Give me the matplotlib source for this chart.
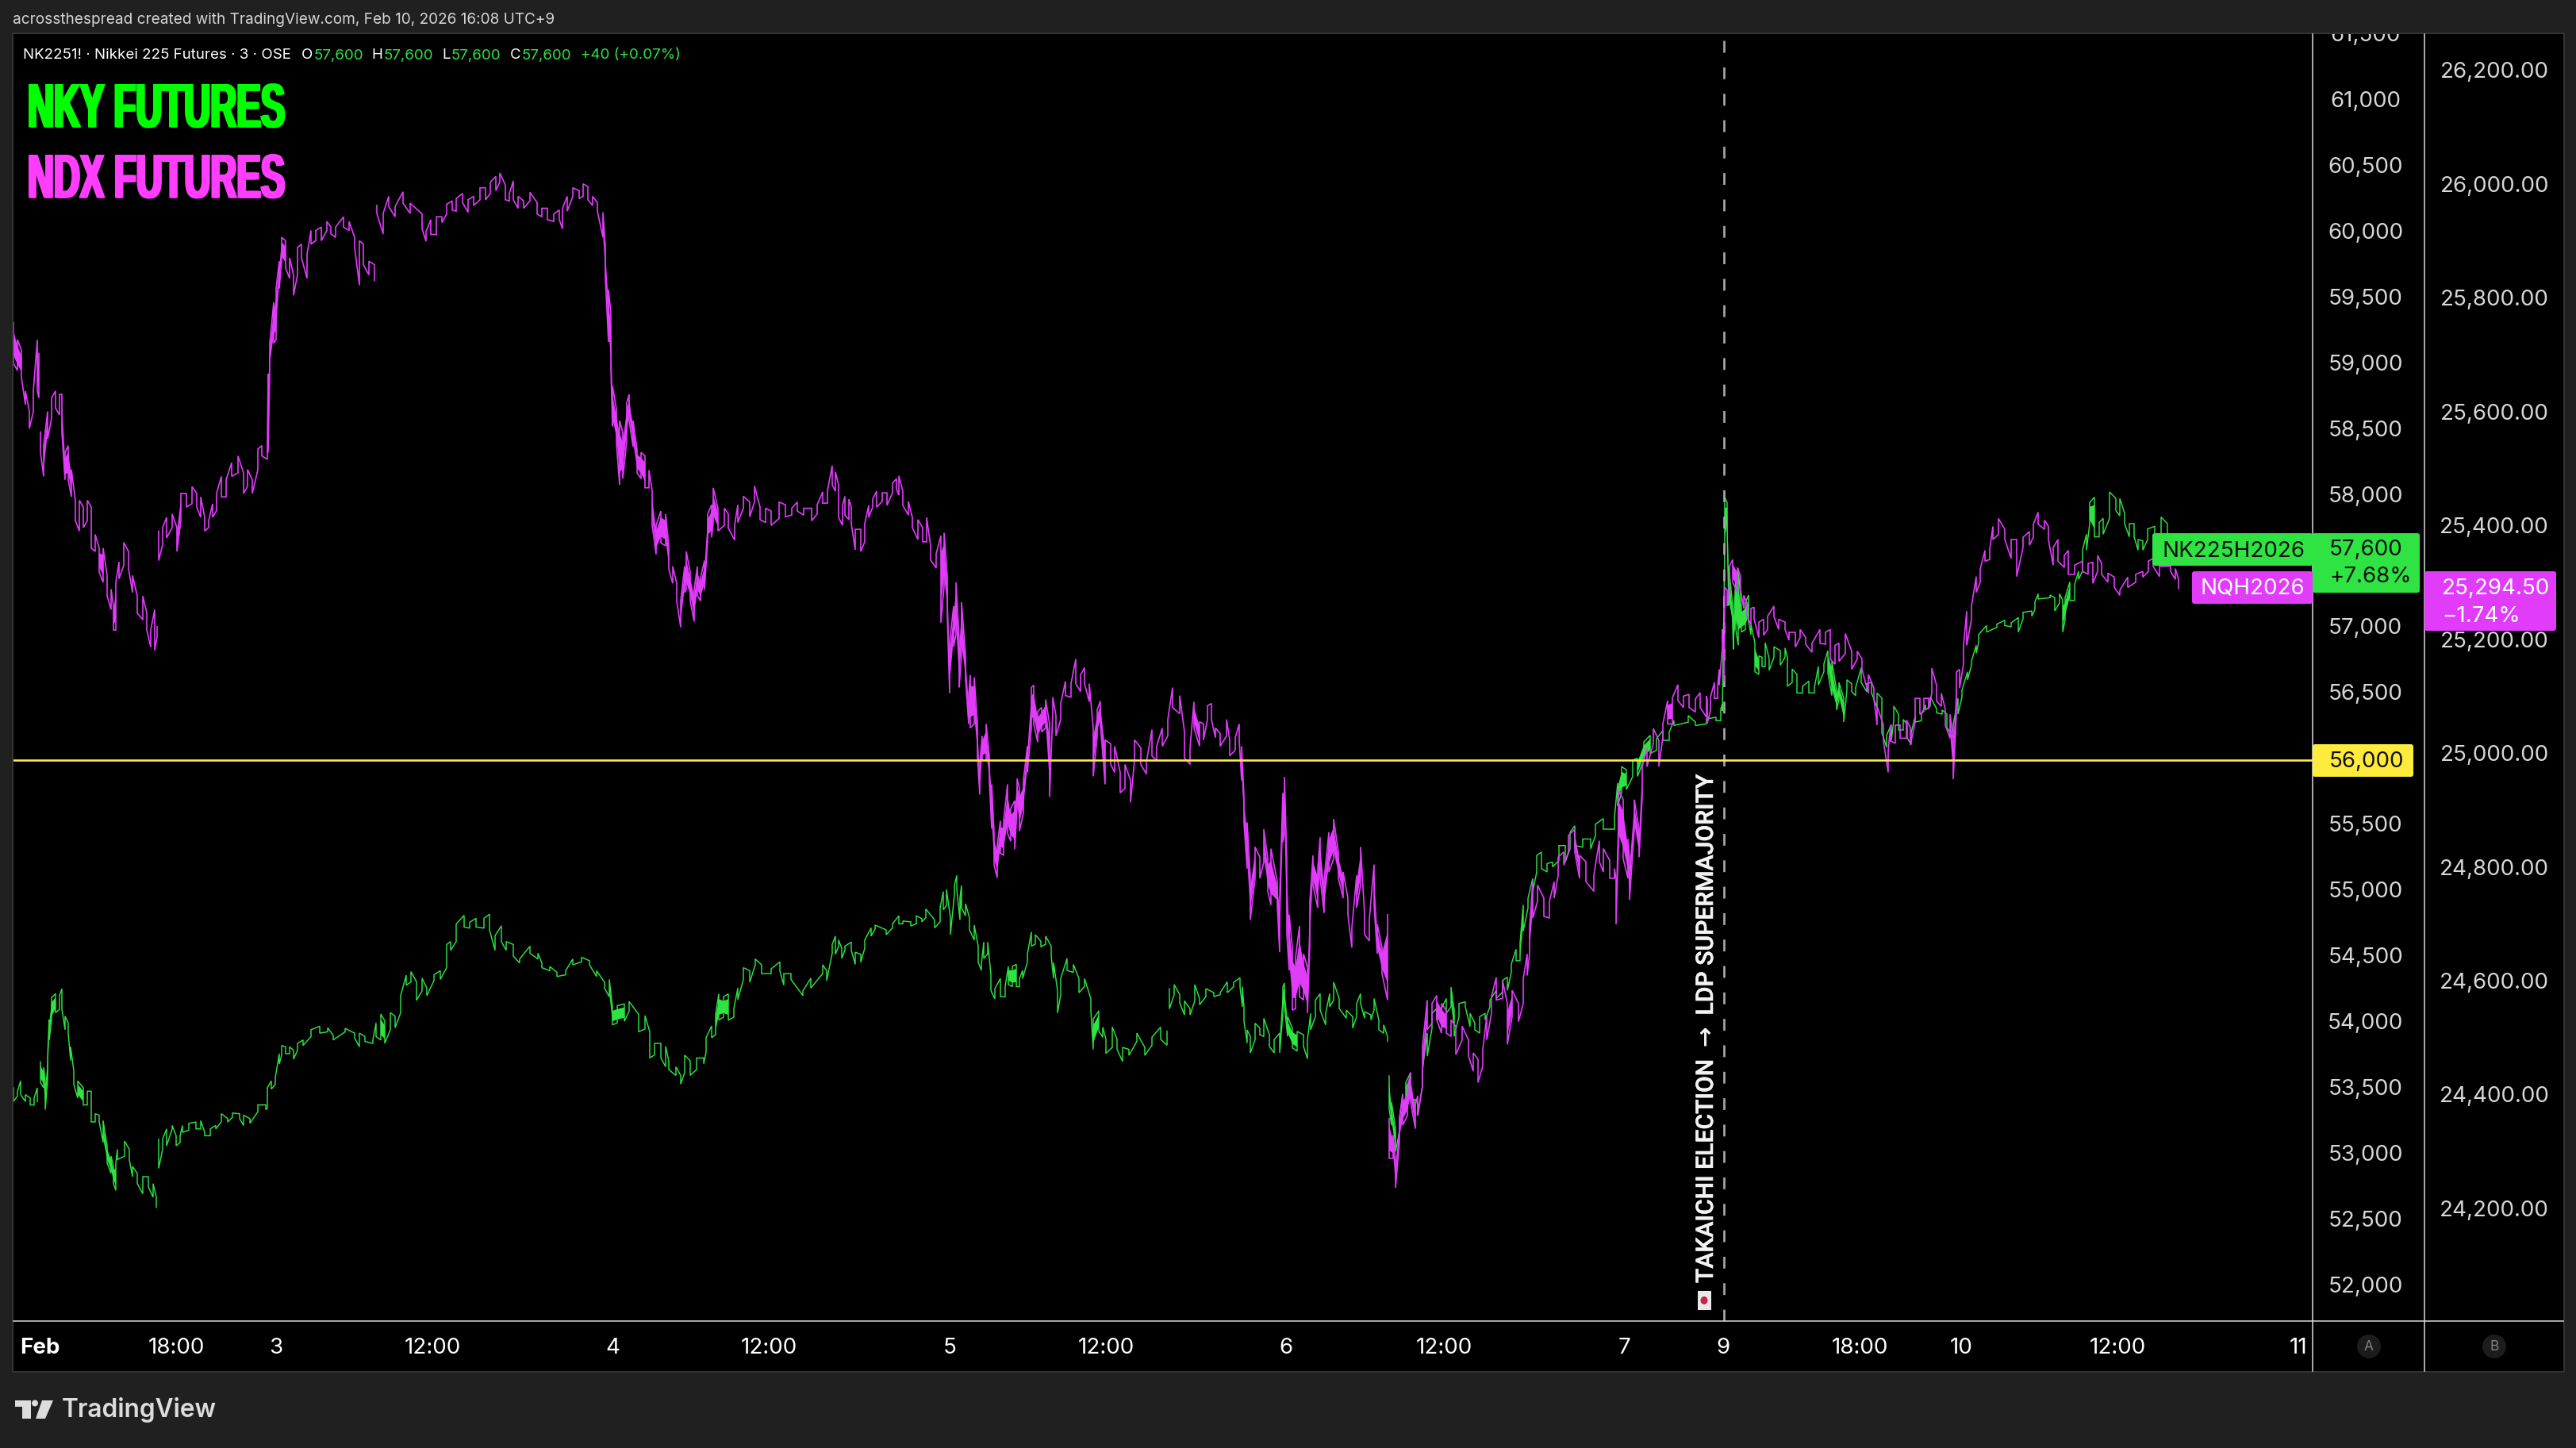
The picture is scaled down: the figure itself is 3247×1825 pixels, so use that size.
import matplotlib
matplotlib.use('Agg')
import matplotlib.pyplot as plt
import matplotlib.patheffects as pe
import numpy as np
from matplotlib.lines import Line2D
from matplotlib.patches import Circle, Ellipse, FancyBboxPatch, Polygon, Rectangle
from matplotlib.transforms import Affine2D

W, H = 3247, 1825

# price scale ticks
nky_ticks = list(range(52000, 62000, 500))
ndx_ticks = list(range(24200, 26400, 200))
# these two sit behind the last price tags
nky_hidden = [56000, 57500]
# time scale: position on the bar axis and its label
time_pos = [50, 222, 348, 545, 772, 969, 1197, 1394, 1621, 1820, 2048, 2172, 2344, 2472, 2669, 2897]
time_lab = ['Feb', '18:00', '3', '12:00', '4', '12:00', '5', '12:00', '6', '12:00', '7', '9', '18:00', '10', '12:00', '11']
level = 56000
election_pos = 2173

# NDX futures as (bar position, high, low)
ndx_1 = [(17,25756,25684),(22,25726,25672),(27,25708,25660),(32,25636,25612),(37,25600,25570),(42,25636,25600),(47,25726,25636),(49,25702,25624)]
ndx_2 = [(51,25564,25528),(55,25540,25486),(60,25600,25552),(65,25624,25588),(70,25636,25606),(75,25630,25594),(78,25630,25564),(82,25528,25480),
         (86,25540,25480),(90,25498,25450),(95,25444,25408),(100,25444,25390),(105,25432,25396),(110,25444,25408),(115,25432,25360),(120,25384,25354),
         (125,25360,25318),(130,25360,25300),(135,25312,25276),(140,25288,25252),(143,25258,25216),(146,25300,25216),(150,25336,25306),(156,25370,25330),
         (162,25354,25324),(167,25312,25282),(173,25276,25246),(180,25276,25234),(185,25246,25216),(190,25216,25186),(195,25252,25180),(198,25222,25204)]
ndx_3 = [(200,25390,25338),(205,25396,25366),(210,25414,25378),(217,25420,25396),(223,25396,25354),(228,25456,25408),(235,25456,25432),(242,25468,25438),
         (248,25456,25432),(253,25450,25414),(258,25414,25390),(263,25408,25396),(268,25438,25414),(273,25456,25426),(279,25486,25450),(285,25480,25450),
         (292,25510,25486),(300,25522,25492),(307,25492,25456),(312,25498,25468),(318,25480,25456),(325,25534,25498),(330,25540,25522),(337,25540,25516),
         (338,25666,25528),(340,25720,25672),(345,25792,25720),(348,25816,25726),(352,25864,25816),(355,25906,25864),(360,25900,25852),(365,25870,25834),
         (370,25840,25804),(375,25888,25840),(380,25894,25870),(387,25876,25834),(392,25918,25894),(398,25918,25900),(405,25924,25900),(412,25934,25918),
         (417,25924,25912),(423,25924,25906),(433,25942,25924),(440,25934,25918),(447,25906,25888),(453,25900,25822),(458,25894,25858),(465,25864,25840),(472,25858,25830)]
ndx_4 = [(475,25962,25948),(483,25948,25912),(490,25978,25960),(498,25960,25942),(508,25986,25966),(517,25966,25948),(532,25947,25921),(537,25916,25899),
         (543,25937,25911),(550,25942,25911),(557,25942,25932),(563,25964,25947),(570,25970,25954),(575,25974,25952),(583,25983,25967),(590,25972,25950),
         (597,25978,25962),(605,25993,25972),(612,25993,25972),(618,26003,25983),(625,26013,25988),(630,26019,26003),(637,25998,25972),(642,25983,25970),
         (647,26005,25972),(653,25978,25957),(660,25970,25957),(668,25985,25970),(677,25967,25947),(683,25957,25942),(690,25957,25937),(698,25947,25934),
         (705,25954,25937),(709,25957,25921),(715,25978,25952),(722,25993,25978),(730,25988,25974),(735,26000,25978),(741,25995,25972),(747,25978,25962),
         (753,25967,25952),(760,25950,25906),(763,25890,25834),(767,25814,25722),(770,25773,25676),(772,25645,25574),(777,25604,25543),(781,25584,25471),
         (785,25563,25482),(790,25615,25548),(793,25630,25584),(798,25584,25538),(803,25533,25492),(808,25528,25482),(813,25522,25466),(818,25497,25466),
         (822,25461,25400),(827,25400,25349),(833,25425,25369),(839,25420,25364),(843,25364,25323),(848,25328,25298),(853,25298,25267),(858,25267,25221),
         (863,25328,25282),(865,25354,25287),(870,25318,25267),(875,25287,25231),(879,25328,25277),(883,25308,25267),(888,25338,25287),(892,25420,25374),
         (897,25436,25379),(899,25466,25405),(905,25430,25390),(913,25430,25400),(918,25420,25395),(926,25400,25374),(930,25436,25405),(937,25451,25430),
         (945,25441,25415),(951,25469,25441),(958,25432,25410),(965,25430,25405),(972,25425,25400),(982,25441,25412),(990,25436,25415),(998,25430,25418),
         (1005,25441,25425),(1013,25430,25418),(1023,25430,25408),(1030,25436,25420),(1037,25459,25439),(1043,25461,25439),(1049,25505,25471)]
ndx_5 = [(1053,25494,25460),(1057,25471,25414),(1062,25435,25400),(1065,25451,25418),(1070,25446,25410),(1073,25432,25403),(1078,25393,25357),(1085,25393,25354),
         (1090,25403,25371),(1095,25435,25414),(1100,25446,25432),(1105,25460,25432),(1112,25457,25442),(1118,25457,25435),(1125,25474,25457),(1130,25482,25464),
         (1133,25487,25453),(1138,25460,25435),(1145,25442,25418),(1150,25414,25396),(1157,25410,25375),(1163,25396,25371),(1168,25414,25371),(1173,25364,25339),
         (1180,25350,25325),(1186,25382,25229),(1190,25387,25293),(1194,25311,25243),(1197,25194,25105),(1202,25258,25187),(1205,25300,25208),(1209,25201,25115),
         (1212,25265,25172),(1217,25172,25130),(1221,25101,25051),(1223,25137,25044),(1228,25133,25051),(1232,25051,24995),(1235,24980,24927),(1238,25030,24987),
         (1243,25051,24987),(1247,24995,24952),(1250,24945,24867),(1253,24859,24803),(1257,24838,24781),(1261,24881,24824),(1265,24881,24820),(1270,24945,24859),
         (1274,24902,24845),(1279,24916,24831),(1282,24955,24902),(1285,24938,24863),(1290,24952,24895),(1295,25012,24966),(1300,25115,25044),(1303,25119,25051),
         (1308,25073,25019),(1313,25080,25037),(1318,25094,25044),(1323,25051,24923),(1327,25098,25073),(1331,25066,25030),(1337,25087,25059),(1343,25126,25101),
         (1350,25122,25098),(1356,25165,25122),(1362,25137,25108),(1367,25150,25122),(1373,25122,25090),(1378,25044,24959),(1383,25076,25030),(1387,25091,25051),
         (1393,25023,24945),(1400,25016,24980),(1405,25012,24966),(1412,24966,24930),(1418,24980,24938),(1425,24952,24913),(1430,25023,24987),(1438,25009,24980),
         (1445,24984,24963),(1452,25041,24995),(1458,25012,24987),(1465,25044,25012),(1472,25059,25030),(1478,25115,25080),(1487,25101,25069),(1493,25037,24991),
         (1500,25009,24980),(1505,25090,25044),(1512,25055,25012),(1517,25051,25023),(1522,25083,25059),(1527,25087,25059),(1532,25044,25027),(1538,25034,25012),
         (1546,25059,25030),(1550,25023,24995),(1557,25027,25005),(1562,25051,25023),(1565,25012,24952),(1568,24923,24877)]
ndx_6 = [(1572,24878,24797),(1576,24780,24707),(1582,24835,24780),(1588,24817,24780),(1593,24866,24808),(1598,24814,24757),(1602,24832,24733),(1610,24774,24733),
         (1613,24745,24650),(1617,24930,24843),(1619,24958,24861),(1622,24814,24681),(1625,24716,24618),(1629,24658,24548),(1633,24641,24551),(1638,24696,24572),
         (1643,24647,24566),(1648,24624,24543),(1651,24739,24664),(1655,24820,24768),(1661,24797,24728),(1664,24852,24780),(1669,24777,24719),(1675,24861,24791),
         (1681,24884,24814),(1687,24826,24780),(1693,24791,24745),(1699,24745,24716),(1704,24693,24658),(1710,24785,24728),(1715,24835,24768),(1720,24716,24681),
         (1726,24707,24670),(1732,24804,24733),(1736,24699,24647),(1742,24658,24612),(1749,24716,24566)]
ndx_7 = [(1751,24358,24288),(1756,24329,24288),(1759,24283,24236),(1764,24358,24317),(1768,24398,24346),(1774,24410,24363),(1778,24439,24387),(1784,24381,24340),
         (1787,24398,24363),(1793,24485,24415),(1799,24566,24514),(1805,24560,24525),(1811,24574,24531),(1817,24560,24508),(1823,24548,24508),(1829,24531,24502),
         (1835,24520,24470),(1843,24520,24496),(1851,24496,24468),(1857,24473,24441),(1863,24462,24421),(1869,24479,24450),(1874,24537,24496),(1880,24572,24543),
         (1886,24606,24566),(1894,24600,24569),(1900,24560,24488),(1906,24583,24537),(1914,24560,24528),(1920,24603,24560),(1925,24647,24609),(1928,24693,24647),
         (1932,24774,24710),(1938,24768,24739),(1946,24745,24713),(1953,24739,24710),(1959,24774,24745),(1964,24817,24785),(1971,24826,24803),(1977,24855,24826),
         (1985,24866,24826),(1991,24820,24780),(1999,24809,24774),(2009,24785,24757),(2016,24846,24809),(2021,24832,24791),(2029,24811,24780),(2035,24797,24780),
         (2037,24780,24699),(2040,24936,24837),(2046,24918,24814),(2052,24849,24780),(2054,24814,24742),(2060,24918,24866),(2066,24866,24817),(2070,24976,24924),
         (2076,25008,24976),(2084,25043,25017),(2091,25022,24976),(2096,25051,25028),(2102,25092,25051),(2108,25097,25051),(2115,25120,25092),(2122,25100,25080),
         (2129,25103,25080),(2137,25095,25072),(2143,25106,25080),(2151,25100,25063)]
ndx_8 = [(2152,25093,25052),(2156,25098,25075),(2161,25124,25096),(2165,25117,25096),(2167,25147,25119),(2171,25217,25184),(2173,25158,25126),(2174,25291,25268),
         (2177,25286,25258),(2180,25328,25296),(2184,25340,25300),(2190,25326,25282),(2194,25310,25286),(2198,25277,25254),(2202,25263,25240),(2207,25254,25226),
         (2211,25256,25235),(2217,25230,25203),(2223,25235,25207),(2228,25240,25217),(2236,25258,25240),(2242,25235,25217),(2250,25230,25217),(2255,25212,25198),
         (2263,25212,25186),(2269,25217,25203),(2276,25203,25191),(2284,25193,25177),(2294,25217,25193),(2301,25212,25191),(2307,25217,25165),(2313,25189,25156),
         (2318,25193,25161),(2326,25210,25175),(2334,25179,25147),(2341,25179,25165),(2347,25165,25147),(2355,25138,25105),(2362,25114,25096),(2366,25082,25049),
         (2374,25049,25021),(2380,25003,24966),(2383,25049,25021),(2389,25049,25017),(2395,25049,25026),(2403,25058,25026),(2408,25045,25014),(2414,25096,25054),
         (2420,25096,25068),(2425,25096,25073),(2431,25096,25077),(2435,25149,25105),(2441,25119,25091),(2447,25105,25082),(2452,25077,25049),(2458,25068,25026),
         (2462,25026,24954),(2466,25142,25068),(2470,25147,25114),(2475,25189,25156),(2479,25249,25189),(2485,25258,25235),(2491,25310,25282),(2496,25323,25300),
         (2502,25356,25337),(2508,25358,25340),(2512,25398,25375),(2519,25412,25384),(2527,25393,25375),(2535,25375,25342),(2542,25375,25310),(2550,25379,25361),
         (2558,25389,25365),(2563,25402,25379),(2569,25423,25402),(2577,25409,25393),(2582,25398,25375),(2588,25361,25330),(2594,25375,25337),(2602,25347,25326),
         (2607,25356,25314),(2615,25330,25314),(2625,25337,25319),(2632,25333,25314),(2638,25335,25298),(2644,25347,25319),(2649,25333,25314),(2657,25316,25300),
         (2665,25309,25291),(2672,25286,25277),(2682,25309,25291),(2692,25314,25300),(2701,25319,25309),(2708,25337,25319),(2714,25342,25328),(2722,25328,25310),
         (2736,25328,25319),(2742,25324,25305),(2746,25305,25289)]

# Nikkei futures, same layout
nky_1 = [(17,53512,53408),(22,53486,53450),(26,53564,53460),(32,53460,53408),(38,53434,53382),(43,53434,53382),(47,53512,53408)]
nky_2 = [(51,53709,53553),(55,53667,53512),(57,53564,53346),(60,53745,53564),(62,54030,53875),(65,54196,54020),(70,54227,54082),(75,54212,54108),
         (78,54264,54108),(82,54056,53953),(86,54005,53927),(89,53823,53719),(93,53641,53538),(98,53564,53434),(105,53512,53382),(110,53486,53382),
         (115,53486,53253),(120,53315,53253),(125,53304,53253),(130,53263,53097),(135,53071,52941),(140,52993,52863),(143,52915,52785),(146,52941,52733),
         (148,53045,52967),(157,53107,52993),(163,53045,52967),(167,52915,52837),(173,52863,52785),(180,52837,52708),(187,52837,52760),(193,52785,52681),(197,52681,52604)]
nky_3 = [(200,53123,52900),(205,53123,53045),(210,53200,53071),(217,53226,53200),(222,53148,53071),(227,53148,53097),(230,53226,53174),(238,53242,53190),
         (247,53252,53200),(253,53263,53200),(258,53174,53148),(265,53200,53148),(272,53226,53200),(279,53315,53253),(287,53278,53252),(293,53320,53288),
         (302,53315,53278),(307,53304,53226),(315,53278,53242),(325,53382,53330),(335,53382,53346),(337,53512,53356),(342,53564,53502),(347,53590,53538),
         (352,53771,53693),(355,53833,53760),(360,53823,53771),(365,53823,53771),(370,53797,53730),(375,53849,53797),(382,53875,53833),(392,53953,53901),
         (403,53979,53927),(413,53968,53937),(420,53911,53875),(435,53963,53937),(447,53927,53890),(453,53927,53823),(460,53901,53864),(470,53875,53849)]
nky_4 = [(474,54004,53901),(480,54072,53875),(485,54020,53849),(492,54082,53953),(498,54056,53968),(505,54212,54082),(512,54367,54290),(518,54394,54316),
         (525,54316,54176),(532,54344,54247),(538,54269,54211),(547,54370,54326),(555,54401,54335),(563,54600,54424),(568,54622,54556),(575,54755,54622),
         (585,54821,54733),(592,54768,54724),(600,54799,54733),(610,54799,54724),(617,54830,54711),(624,54667,54556),(632,54742,54622),(638,54622,54556),
         (647,54600,54512),(655,54490,54459),(668,54587,54534),(678,54534,54490),(683,54459,54424),(693,54433,54401),(702,54388,54357),(713,54401,54370),
         (722,54490,54446),(733,54503,54468),(743,54477,54446),(752,54401,54357),(762,54313,54269),(768,54335,54203),(772,54123,53990),(778,54136,54004),
         (787,54149,54017),(793,54167,54092),(805,54070,53937),(813,54061,53959),(819,53937,53739),(825,53849,53761),(833,53849,53739),(839,53827,53672),
         (843,53716,53650),(852,53672,53606),(858,53606,53540),(863,53760,53628),(870,53716,53606),(878,53738,53650),(887,53738,53694),(890,53893,53783),
         (897,53981,53893),(902,54070,53915),(906,54225,54026),(912,54203,54048),(918,54225,54026),(925,54114,54048),(930,54269,54181),(937,54424,54335),
         (945,54401,54313),(952,54490,54446),(960,54446,54379),(972,54415,54379),(983,54468,54401),(988,54379,54291),(997,54379,54335),(1012,54247,54212),
         (1022,54344,54269),(1037,54446,54379),(1042,54401,54326),(1049,54600,54534)]
nky_5 = [(1053,54664,54526),(1057,54634,54587),(1061,54572,54495),(1065,54587,54557),(1073,54618,54557),(1078,54541,54449),(1085,54526,54465),(1090,54634,54572),
         (1098,54726,54664),(1103,54747,54717),(1117,54711,54674),(1125,54757,54726),(1133,54818,54757),(1138,54778,54757),(1148,54772,54741),(1155,54818,54757),
         (1162,54796,54772),(1167,54870,54803),(1178,54787,54726),(1185,54879,54772),(1189,55002,54864),(1193,55018,54895),(1198,54803,54674),(1203,55048,54981),
         (1206,55125,55018),(1210,54956,54787),(1212,55048,54879),(1217,54910,54818),(1222,54803,54711),(1228,54747,54634),(1233,54588,54465),(1237,54449,54403),
         (1240,54618,54495),(1245,54618,54526),(1249,54372,54250),(1254,54265,54188),(1261,54342,54204),(1267,54280,54204),(1271,54434,54296),(1276,54434,54280),
         (1281,54449,54280),(1285,54342,54280),(1289,54403,54342),(1295,54526,54465),(1300,54695,54587),(1305,54674,54603),(1312,54624,54581),(1318,54664,54603),
         (1325,54587,54511),(1328,54464,54342),(1333,54250,54080),(1337,54342,54219),(1345,54495,54403),(1353,54449,54388),(1360,54342,54234),(1367,54342,54280),
         (1375,54188,54096),(1378,54034,53804),(1385,54096,53942),(1390,53973,53896),(1394,53881,53773),(1402,53973,53819),(1408,53881,53804),(1415,53819,53712),
         (1423,53804,53758),(1433,53927,53865),(1443,53819,53758),(1452,53896,53835),(1463,53973,53881),(1471,53942,53835)]
nky_6 = [(1474,54265,54111),(1480,54296,54219),(1487,54219,54157),(1493,54172,54065),(1500,54111,54065),(1506,54296,54172),(1512,54188,54142),(1520,54265,54204),
         (1530,54234,54204),(1538,54234,54219),(1547,54317,54234),(1555,54311,54280),(1563,54348,54280),(1566,54280,54126),(1568,54126,54019),(1572,53952,53852),
         (1576,53902,53777),(1582,54002,53877),(1588,53965,53915),(1593,54040,53902),(1600,53915,53827),(1606,53877,53777),(1613,53927,53777),(1617,54277,54077),
         (1619,54307,54127),(1623,54052,53902),(1629,53965,53815),(1635,53940,53790),(1643,53915,53827),(1648,53877,53732),(1652,54077,53952),(1658,54177,54052),
         (1664,54227,54102),(1671,54077,53990),(1676,54227,54127),(1681,54314,54177),(1688,54190,54115),(1697,54102,54040),(1705,54052,53965),(1710,54152,54052),
         (1715,54227,54152),(1720,54090,54040),(1728,54065,54027),(1732,54190,54102),(1738,54027,53952),(1744,53990,53927),(1749,53902,53865)]
nky_7 = [(1751,53602,53353),(1754,53402,53228),(1759,53203,53028),(1764,53278,53178),(1768,53465,53353),(1772,53552,53402),(1778,53627,53477),(1783,53428,53303),
         (1787,53402,53303),(1793,53652,53527),(1799,53927,53752),(1805,54077,53965),(1811,54115,54027),(1817,54115,54065),(1823,54190,54077),(1829,54277,54127),
         (1833,54102,53902),(1839,54152,54052),(1847,54165,54127),(1853,54077,53977),(1859,54002,53952),(1865,54052,53927),(1872,54077,54027),(1878,54177,54127),
         (1886,54252,54190),(1894,54327,54240),(1900,54352,54252),(1905,54452,54389),(1911,54564,54477),(1916,54614,54477),(1920,54901,54702),(1926,54951,54876),
         (1932,55101,55001),(1937,55276,55151),(1943,55301,55176),(1950,55214,55151),(1957,55226,55189),(1965,55351,55239),(1973,55351,55226),(1979,55451,55326),
         (1985,55501,55351),(1995,55401,55339),(2005,55401,55326),(2011,55513,55426),(2021,55556,55476),(2035,55563,55476),(2039,55826,55651),(2044,55951,55751),
         (2050,55926,55776),(2058,56001,55876),(2064,56013,55876),(2072,56138,56001),(2080,56188,56050),(2088,56163,56075),(2096,56225,56150),(2104,56213,56150),
         (2110,56300,56263),(2128,56338,56288),(2137,56288,56263),(2151,56313,56275),(2163,56325,56300),(2169,56388,56300),(2171,56425,56375)]
nky_8 = [(2174,57996,57604),(2177,57956,57755),(2179,57474,57173),(2184,57173,57012),(2185,57012,56841),(2188,57393,56992),(2191,57454,56871),(2195,57162,56972),
         (2200,57193,56992),(2204,57253,57052),(2207,57032,56952),(2212,56891,56671),(2217,56791,56651),(2221,56781,56711),(2225,56891,56711),(2230,56771,56681),
         (2236,56861,56781),(2244,56831,56721),(2250,56851,56781),(2253,56781,56560),(2259,56691,56590),(2265,56651,56510),(2272,56560,56510),(2280,56600,56510),
         (2287,56550,56510),(2292,56711,56570),(2299,56731,56671),(2304,56831,56661),(2309,56751,56490),(2315,56530,56380),(2318,56590,56460),(2324,56470,56289),
         (2328,56610,56530),(2334,56580,56520),(2339,56550,56490),(2346,56701,56590),(2353,56580,56520),(2359,56590,56510),(2366,56510,56400),(2372,56470,56209),
         (2378,56189,56098),(2384,56269,56149),(2387,56410,56299),(2393,56349,56229),(2399,56309,56229),(2404,56269,56169),(2409,56209,56118),(2414,56330,56289),
         (2422,56349,56299),(2427,56420,56380),(2433,56480,56410),(2441,56390,56359),(2448,56380,56349),(2454,56349,56249),(2462,56269,56169),(2468,56470,56349),
         (2473,56530,56480),(2480,56670,56610),(2485,56751,56721),(2491,56871,56811),(2494,56952,56892),(2504,57022,56972),(2517,57032,57008),(2527,57062,57022),
         (2535,57042,57012),(2544,57082,56972),(2550,57122,57072),(2561,57132,57092),(2565,57203,57143),(2569,57263,57223),(2584,57253,57233),(2590,57233,57133),
         (2596,57263,57193),(2600,57213,56972),(2603,57233,57062),(2609,57353,57213),(2615,57333,57213),(2620,57434,57373),(2625,57594,57434),(2630,57715,57594),
         (2634,57956,57795),(2640,57996,57695),(2646,57805,57695),(2651,57835,57715),(2659,58036,57835),(2667,57986,57895),(2672,57986,57855),(2678,57875,57795),
         (2684,57795,57695),(2690,57795,57695),(2695,57675,57594),(2701,57665,57594),(2707,57755,57675),(2716,57775,57695),(2724,57845,57695),(2732,57795,57725),(2740,57700,57600)]

ndx_sessions = [ndx_1, ndx_2, ndx_3, ndx_4 + ndx_5 + ndx_6, ndx_7 + ndx_8]
nky_sessions = [nky_1, nky_2, nky_3 + nky_4 + nky_5, nky_6, nky_7 + nky_8]

GREEN = '#2ee342'
MAGENTA = '#e03cfa'
YELLOW = '#ffeb3b'
TICK = '#d6d6d6'
FONT = 'Inter'
plt.rcParams['font.family'] = [FONT, 'DejaVu Sans']


def zigzag(rows):
    # walk high -> low on one bar, low -> high on the next
    xs, ys = [], []
    for i, (p, hi, lo) in enumerate(rows):
        xs += [p, p]
        ys += [hi, lo] if i % 2 == 0 else [lo, hi]
    return xs, ys


def draw_series(axis, sessions, color, lw, z, busy):
    for sess in sessions:
        arr = np.array(sess, dtype=float)
        mid = (arr[:, 1] + arr[:, 2]) / 2
        half = (arr[:, 1] - arr[:, 2]) * 0.3
        # only the busy stretches read as a solid core, calm ones stay a thin line
        wide = arr[:, 1] - arr[:, 2] >= busy
        axis.fill_between(arr[:, 0], mid - half, mid + half, where=wide, color=color, lw=0, zorder=z)
        x, y = zigzag(sess)
        axis.plot(x, y, color=color, lw=lw, solid_joinstyle='miter', zorder=z)


class Squeeze(pe.AbstractPathEffect):
    # no condensed font installed, so narrow the glyphs of a normal bold face
    def __init__(self, x0, sx, smear):
        self.x0, self.sx, self.smear = x0, sx, smear

    def draw_path(self, renderer, gc, tpath, affine, rgbFace=None):
        for dx in (-self.smear, 0, self.smear):
            aff = affine + Affine2D().translate(-self.x0, 0).scale(self.sx, 1).translate(self.x0 + dx, 0)
            renderer.draw_path(gc, tpath, aff, rgbFace)


fig = plt.figure(figsize=(W / 100, H / 100), dpi=100, facecolor='#202020')
# pixel transform for the window furniture, origin top left
px = Affine2D().scale(1, -1).translate(0, H)


def box(x0, y0, x1, y1, color, z=5, round_px=0):
    style = 'round,pad=0,rounding_size=%d' % round_px if round_px else 'square,pad=0'
    fig.add_artist(FancyBboxPatch((x0, y0), x1 - x0, y1 - y0, boxstyle=style, fc=color, ec='none',
                                  transform=px, zorder=z))


def label(x, y, s, color, size=20, ha='left', z=6, **kw):
    return fig.text(x, y, s, color=color, fontsize=size, ha=ha, va='center', transform=px, zorder=z, **kw)


def hline(x0, x1, y, color='#d9d9d9', lw=1.1, z=3):
    fig.add_artist(Line2D([x0, x1], [y, y], color=color, lw=lw, transform=px, zorder=z))


def vline(x, y0, y1, color='#d9d9d9', lw=1.1, z=3):
    fig.add_artist(Line2D([x, x], [y0, y1], color=color, lw=lw, transform=px, zorder=z))


# black chart panel
fig.add_artist(Rectangle((16, 42), 3216, 1687, fc='#000000', ec='#333333', lw=1.5, transform=px, zorder=-1))

# main pane, both price scales share it
left, right, top, bottom = 17, 2915, 43, 1665
ax = fig.add_axes([left / W, 1 - bottom / H, (right - left) / W, (bottom - top) / H])
ax.patch.set_visible(False)
ax.set_xlim(left, right)
ax.set_ylim(51741, 61512)
ax2 = ax.twinx()
ax2.set_ylim(24002, 26263)
for a in (ax, ax2):
    for s in a.spines.values():
        s.set_visible(False)

draw_series(ax, nky_sessions, GREEN, 1.05, 2, 130)
draw_series(ax2, ndx_sessions, MAGENTA, 1.2, 3, 40)

# the level belongs to the Nikkei scale, drawn on the top axes so it covers both lines
level_on_ndx = np.interp(level, ax.get_ylim(), ax2.get_ylim())
ax2.axhline(level_on_ndx, color=YELLOW, lw=1.9, zorder=4)
ax2.axvline(election_pos, color='#a6a6a6', lw=1.95, dashes=(5.5, 6.8), zorder=1)

# price scales
ax.yaxis.tick_right()
ax.set_yticks(nky_ticks)
ax.set_yticklabels(['' if v in nky_hidden else f'{v:,}' for v in nky_ticks])
ax.tick_params(axis='y', length=0, pad=48, labelcolor=TICK, labelsize=20)
ax2.set_yticks(ndx_ticks)
ax2.set_yticklabels([f'{v:,.2f}' for v in ndx_ticks])
ax2.tick_params(axis='y', length=0, pad=165, labelcolor=TICK, labelsize=20)
clip = Rectangle((16, 43), 3216, 1686, transform=px)
for t in ax.get_yticklabels():
    t.set_ha('center')
    t.set_va('center')
    t.set_clip_on(True)
    t.set_clip_path(clip)
for t in ax2.get_yticklabels():
    t.set_ha('center')

# time scale
ax.set_xticks(time_pos)
ax.set_xticklabels(time_lab)
ax.tick_params(axis='x', length=0, pad=15, labelcolor='#ffffff', labelsize=20)
ax.get_xticklabels()[0].set_fontweight('bold')

# pane separators
hline(17, 3231, 1665)
vline(2915, 43, 1728)
vline(3056, 43, 1728)

# header and watermark
label(16, 25, 'acrossthespread created with TradingView.com, Feb 10, 2026 16:08 UTC+9', '#d4d4d4', size=13.7)
rend = fig.canvas.get_renderer()
x_now = 29
legend_parts = [('NK2251! · Nikkei 225 Futures · 3 · OSE', '#ffffff', 13), ('O', '#ffffff', 1), ('57,600', GREEN, 11),
                ('H', '#ffffff', 1), ('57,600', GREEN, 11), ('L', '#ffffff', 1), ('57,600', GREEN, 11),
                ('C', '#ffffff', 1), ('57,600', GREEN, 12), ('+40 (+0.07%)', GREEN, 0)]
for s, c, gap in legend_parts:
    t = label(x_now, 70, s, c, size=13.5)
    x_now += t.get_window_extent(rend).width + gap

# big condensed titles
for s, c, yc in [('NKY FUTURES', '#00ff00', 140), ('NDX FUTURES', '#ff3dff', 229)]:
    t = label(35, yc, s, c, size=57, family=['Liberation Sans', 'DejaVu Sans'], fontweight='bold')
    bb = t.get_window_extent(rend)
    t.set_path_effects([Squeeze(bb.x0, 324 / bb.width, 2)])

# last price tags
box(2713, 672, 2915, 713, GREEN, round_px=3)
label(2905, 695, 'NK225H2026', '#101010', ha='right')
box(2763, 720, 2915, 761, MAGENTA, round_px=3)
label(2905, 741, 'NQH2026', '#ffffff', ha='right')
box(2915, 672, 3050, 747, GREEN, round_px=3)
label(2936, 693, '57,600', '#101010')
label(2936, 727, '+7.68%', '#101010')
box(3056, 720, 3222, 795, MAGENTA, round_px=3)
label(3078, 742, '25,294.50', '#ffffff')
label(3078, 777, '−1.74%', '#ffffff')
box(2915, 938, 3042, 979, YELLOW, round_px=3)
label(2936, 960, '56,000', '#101010')

# election note with a small flag
fig.text(2151, 1617, 'TAKAICHI ELECTION  →  LDP SUPERMAJORITY', color='#f2f2f2', fontsize=21.7, rotation=90,
         ha='center', va='bottom', transform=px, zorder=6, family=['Roboto', 'DejaVu Sans'], fontweight='medium',
         path_effects=[pe.withStroke(linewidth=0.4, foreground='#f2f2f2')])
fig.add_artist(Rectangle((2140, 1627), 17, 24, fc='#e8e8e8', ec='none', transform=px, zorder=6))
fig.add_artist(Ellipse((2148, 1639), 9, 10, fc='#c8234f', ec='none', transform=px, zorder=7))

# scale badges
for cx, s in [(2986, 'A'), (3144, 'B')]:
    fig.add_artist(Circle((cx, 1697), 15, fc='#1c1c1c', ec='none', transform=px, zorder=5))
    label(cx, 1698, s, '#808080', size=12.5, ha='center')

# logo
logo = '#dcdcdc'
fig.add_artist(Rectangle((19, 1765), 20, 8, fc=logo, ec='none', transform=px, zorder=5))
fig.add_artist(Rectangle((28, 1773), 11, 15, fc=logo, ec='none', transform=px, zorder=5))
fig.add_artist(Circle((44, 1768.5), 4, fc=logo, ec='none', transform=px, zorder=5))
fig.add_artist(Polygon([(67, 1765), (53, 1765), (45, 1788), (57, 1788)], fc=logo, ec='none', transform=px, zorder=5))
label(78, 1777, 'TradingView', logo, size=22.8, fontweight='semibold')

fig.savefig('out.png', dpi=100, facecolor=fig.get_facecolor())
